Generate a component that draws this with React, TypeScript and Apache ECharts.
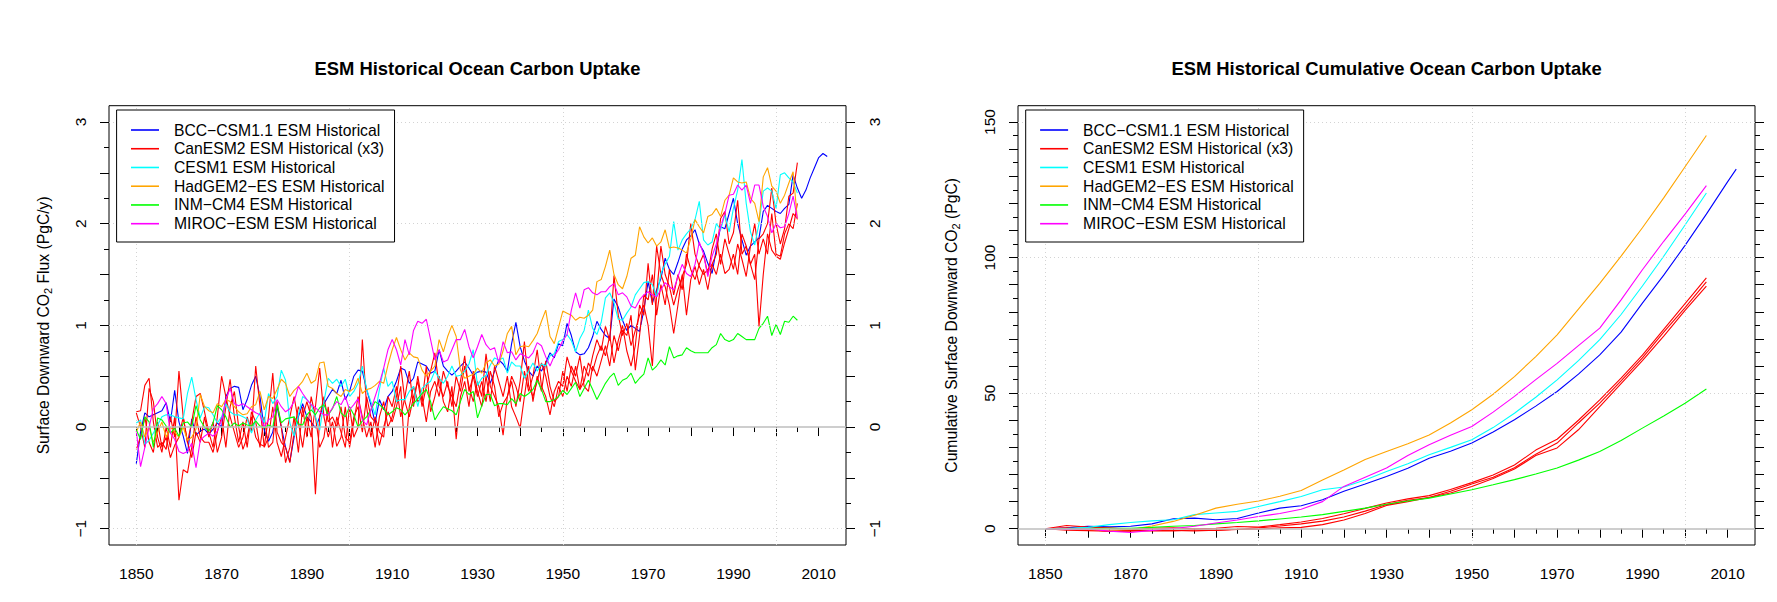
import React, { useEffect, useRef } from "react";
import * as echarts from "echarts";

// ---------------- DATA ----------------
const FLUX_START_YEAR = 1850;

const seriesNames = [
  "BCC\u2212CSM1.1 ESM Historical",
  "CanESM2 ESM Historical (x3)",
  "CESM1 ESM Historical",
  "HadGEM2\u2212ES ESM Historical",
  "INM\u2212CM4 ESM Historical",
  "MIROC\u2212ESM ESM Historical",
];
const seriesColors = ["#0000FF", "#FF0000", "#00FFFF", "#FFA500", "#00FF00", "#FF00FF"];

// Annual ocean carbon uptake, PgC/y (BCC 1850-2012, others 1850-2005)
const bccFlux = [
  -0.36, -0.05, 0.14, 0.10, 0.12, 0.14, 0.16, 0.24, 0.05, 0.36,
  0.05, -0.09, -0.26, 0.08, -0.08, -0.04, -0.02, -0.07, -0.02, 0.04,
  0.00, 0.30, 0.38, 0.40, 0.39, 0.17, 0.27, 0.41, 0.50, 0.30,
  -0.03, -0.14, -0.05, 0.20, 0.00, -0.20, -0.34, -0.10, 0.10, 0.23,
  0.10, 0.05, -0.01, 0.10, 0.23, 0.30, 0.37, 0.33, 0.46, 0.27,
  0.35, 0.50, 0.56, 0.55, 0.37, 0.22, 0.04, 0.27, 0.17, 0.30,
  0.35, 0.45, 0.58, 0.56, 0.43, 0.48, 0.64, 0.62, 0.60, 0.53,
  0.55, 0.76, 0.60, 0.55, 0.51, 0.55, 0.60, 0.64, 0.58, 0.51,
  0.54, 0.55, 0.54, 0.43, 0.55, 0.66, 0.62, 0.55, 0.82, 1.03,
  0.79, 0.65, 0.55, 0.50, 0.60, 0.55, 0.63, 0.73, 0.68, 0.82,
  0.80, 1.02, 0.90, 0.74, 0.71, 0.72, 0.78, 0.89, 1.04, 0.96,
  0.90, 0.87, 1.26, 1.18, 1.05, 0.95, 1.00, 0.97, 0.94, 1.15,
  1.43, 1.22, 1.35, 1.46, 1.66, 1.55, 1.50, 1.62, 1.75, 1.84,
  1.88, 1.94, 1.80, 1.73, 1.61, 1.51, 1.75, 1.97, 1.95, 2.10,
  2.25, 2.00, 1.84, 1.69, 1.78, 1.82, 1.86, 2.12, 2.18, 2.15,
  2.12, 2.10, 2.15, 2.19, 2.48, 2.35, 2.25, 2.33, 2.45, 2.55,
  2.65, 2.69, 2.66,
];

const canRun1Flux = [
  0.15, 0.16, 0.41, 0.48, 0.05, -0.20, -0.15, -0.22, 0.10, -0.10,
  0.55, 0.10, -0.15, 0.05, 0.30, 0.33, 0.15, -0.05, -0.20, 0.10,
  0.50, 0.30, 0.10, -0.05, -0.20, -0.10, 0.10, -0.05, 0.60, 0.20,
  -0.20, -0.10, 0.20, -0.15, -0.29, -0.10, 0.10, 0.30, 0.05, -0.20,
  0.10, -0.10, 0.20, 0.58, 0.10, -0.10, 0.05, -0.19, -0.10, 0.20,
  -0.20, 0.05, 0.30, 0.10, -0.10, 0.05, -0.20, 0.10, 0.25, 0.00,
  0.10, 0.30, 0.60, 0.25, 0.10, 0.30, 0.45, 0.20, 0.40, 0.55,
  0.73, 0.40, 0.30, 0.45, 0.20, 0.50, 0.35, 0.60, 0.40, 0.25,
  0.45, 0.30, 0.72, 0.40, 0.30, 0.20, -0.08, 0.30, 0.50, 0.40,
  0.25, 0.55, 0.35, 0.50, 0.76, 0.40, 0.30, 0.12, 0.35, 0.45,
  0.40, 0.69, 0.55, 0.45, 0.37, 0.60, 0.50, 0.70, 0.86, 0.75,
  0.99, 0.85, 1.49, 1.10, 0.90, 1.02, 0.80, 0.95, 1.10, 1.20,
  1.00, 0.60, 1.30, 1.78, 1.50, 1.38, 1.20, 1.35, 1.48, 1.60,
  2.00, 1.70, 1.58, 1.50, 1.55, 1.60, 1.70, 2.05, 2.12, 1.80,
  1.91, 2.23, 1.70, 1.78, 1.60, 1.45, 1.85, 1.90, 2.00, 2.35,
  2.00, 1.80, 1.95, 2.27, 2.30, 2.60,
];

const canRun2Flux = [
  0.14, 0.00, -0.20, 0.38, 0.25, -0.10, -0.25, 0.00, -0.20, 0.10,
  -0.72, -0.42, -0.45, -0.20, 0.10, -0.10, -0.15, -0.15, -0.25, -0.05,
  0.10, -0.20, 0.20, 0.35, 0.00, -0.22, -0.10, 0.10, -0.10, -0.17,
  -0.19, 0.10, 0.53, -0.05, -0.15, -0.20, -0.35, -0.05, 0.20, 0.10,
  0.25, 0.10, -0.66, 0.10, 0.30, 0.05, 0.10, 0.00, 0.20, -0.10,
  -0.15, 0.10, 0.20, -0.05, 0.30, 0.10, 0.05, -0.18, 0.00, 0.15,
  0.05, 0.20, 0.40, -0.31, 0.20, 0.40, 0.25, 0.30, 0.05, 0.35,
  0.45, 0.30, 0.55, 0.40, 0.30, 0.20, 0.45, 0.70, 0.35, 0.50,
  0.30, 0.45, 0.25, 0.55, 0.40, 0.10, 0.23, 0.30, 0.45, 0.20,
  0.45, 0.84, 0.40, 0.30, 0.45, 0.63, 0.50, 0.30, 0.20, 0.40,
  0.30, 0.50, 0.40, 0.60, 0.37, 0.45, 0.63, 0.55, 0.70, 0.80,
  0.70, 0.90, 0.63, 0.85, 1.00, 0.75, 0.60, 0.80, 1.20, 1.10,
  1.61, 1.20, 1.78, 1.50, 1.38, 1.20, 0.92, 1.20, 1.50, 1.10,
  1.45, 1.58, 1.40, 1.55, 1.35, 1.60, 1.50, 1.70, 1.51, 1.55,
  1.70, 1.50, 1.90, 1.78, 1.60, 1.70, 0.99, 1.50, 1.90, 1.74,
  1.68, 1.65, 1.81, 1.95, 2.10, 2.05,
];

const canRun3Flux = [
  -0.22, -0.10, 0.10, -0.15, -0.25, 0.05, -0.20, -0.10, -0.30, -0.18,
  -0.10, 0.10, -0.15, -0.30, -0.05, -0.15, 0.10, -0.10, 0.05, -0.25,
  -0.10, 0.20, 0.47, 0.10, -0.15, 0.05, -0.20, 0.15, 0.05, -0.20,
  0.10, -0.20, -0.15, 0.25, 0.00, -0.35, -0.20, 0.10, -0.25, 0.20,
  -0.10, 0.30, 0.10, -0.20, -0.10, 0.20, -0.20, 0.10, -0.05, -0.20,
  0.20, -0.10, 0.00, 0.86, 0.20, -0.10, 0.10, -0.05, -0.10, 0.30,
  0.20, 0.40, 0.10, 0.30, 0.55, 0.20, 0.50, 0.25, 0.60, 0.15,
  0.30, 0.50, 0.25, 0.15, 0.40, -0.12, 0.30, 0.45, 0.20, 0.55,
  0.35, 0.20, 0.50, 0.25, 0.60, 0.45, 0.30, 0.50, 0.20, 0.10,
  -0.01, 0.30, 0.60, 0.25, 0.50, 0.35, 0.65, 0.40, 0.25, 0.30,
  0.55, 0.35, 0.60, 0.50, 0.70, 0.40, 0.35, 0.60, 0.50, 0.65,
  0.80, 0.60, 0.90, 0.75, 0.95, 0.90, 1.10, 0.56, 0.90, 1.30,
  1.25, 1.50, 1.10, 1.40, 1.20, 1.55, 1.30, 1.50, 1.35, 1.70,
  1.55, 1.45, 1.60, 1.70, 1.50, 1.75, 1.90, 1.60, 1.85, 1.70,
  1.55, 1.80, 1.65, 1.48, 1.78, 2.00, 1.70, 1.85, 1.70, 2.10,
  1.70, 1.68, 1.90, 2.00, 1.95, 2.20,
];

const cesmFlux = [
  0.04, 0.07, -0.17, -0.13, -0.06, 0.02, 0.10, 0.12, 0.12, 0.10,
  0.09, 0.08, 0.33, 0.49, 0.27, 0.09, 0.20, 0.19, 0.12, 0.04,
  0.10, 0.23, 0.15, 0.12, 0.12, 0.10, 0.08, -0.06, 0.07, 0.14,
  0.04, 0.33, 0.23, 0.30, 0.56, 0.46, 0.04, -0.09, 0.12, 0.30,
  0.27, 0.22, 0.10, -0.03, 0.25, 0.48, 0.43, 0.47, 0.40, 0.47,
  0.30, 0.35, 0.43, 0.60, 0.37, 0.25, 0.12, 0.37, 0.58, 0.40,
  0.45, 0.25, 0.27, 0.27, 0.35, 0.40, 0.20, 0.38, 0.42, 0.45,
  0.55, 0.48, 0.43, 0.50, 0.60, 0.50, 0.51, 0.55, 0.62, 0.76,
  0.41, 0.48, 0.51, 0.61, 0.68, 0.66, 0.68, 0.53, 0.64, 0.60,
  0.60, 0.48, 0.55, 0.63, 0.55, 0.62, 0.60, 0.70, 0.72, 0.84,
  0.86, 0.91, 0.85, 0.74, 0.87, 0.95, 1.15, 0.97, 0.91, 1.03,
  1.27, 1.32, 1.22, 1.06, 1.05, 1.12, 1.18, 1.30, 1.36, 1.42,
  1.43, 1.40, 1.28, 1.51, 1.60, 1.68, 2.02, 1.74, 1.84, 1.90,
  1.95, 2.04, 2.22, 1.84, 1.79, 1.82, 2.00, 1.94, 2.09, 1.92,
  2.15, 2.33, 2.63, 2.20, 1.92, 1.79, 2.00, 2.32, 2.35, 2.32,
  2.15, 2.48, 2.50, 2.45, 2.41, 2.30,
];

const hadFlux = [
  -0.05, 0.05, -0.10, 0.00, -0.15, -0.05, 0.05, -0.10, 0.00, -0.05,
  -0.10, 0.00, -0.13, -0.10, -0.02, 0.32, 0.20, 0.16, 0.14, 0.23,
  0.20, 0.27, 0.25, 0.20, 0.15, 0.12, 0.13, 0.20, 0.22, 0.35,
  0.17, 0.30, 0.28, 0.37, 0.47, 0.43, 0.30, 0.36, 0.40, 0.45,
  0.53, 0.43, 0.46, 0.63, 0.64, 0.40, 0.38, 0.33, 0.30, 0.37,
  0.35, 0.38, 0.48, 0.33, 0.37, 0.38, 0.41, 0.45, 0.43, 0.61,
  0.76, 0.88, 0.76, 0.66, 0.73, 0.69, 0.68, 0.56, 0.50, 0.55,
  0.60, 0.86, 0.74, 0.89, 1.00, 0.89, 0.56, 0.48, 0.50, 0.52,
  0.58, 0.53, 0.63, 0.66, 0.60, 0.62, 0.75, 0.92, 0.99, 0.71,
  0.79, 0.80, 0.79, 0.85, 0.92, 1.04, 1.15, 0.89, 0.82, 0.98,
  1.14, 1.12, 1.10, 1.05, 1.08, 1.07, 1.10, 1.15, 1.43, 1.45,
  1.58, 1.74, 1.50, 1.40, 1.36, 1.48, 1.66, 1.69, 1.97, 1.87,
  1.81, 1.86, 1.78, 1.82, 1.94, 1.76, 1.77, 1.76, 1.74, 1.71,
  1.85, 2.04, 1.97, 1.91, 2.07, 2.09, 2.15, 2.07, 2.23, 2.28,
  2.45, 2.41, 2.40, 2.41, 2.25, 2.20, 2.02, 2.46, 2.55, 2.37,
  2.32, 2.20, 2.28, 2.40, 2.51, 2.04,
];

const inmFlux = [
  -0.03, -0.12, 0.10, 0.05, -0.20, 0.09, 0.07, 0.01, -0.06, -0.01,
  -0.09, 0.04, 0.05, 0.00, 0.21, 0.07, 0.00, -0.04, 0.04, 0.21,
  0.17, 0.10, 0.00, 0.04, 0.01, 0.04, 0.02, 0.01, 0.06, 0.01,
  -0.01, 0.02, 0.00, 0.22, 0.04, 0.08, 0.09, 0.10, 0.03, 0.02,
  0.12, 0.17, 0.12, 0.19, 0.22, 0.12, 0.18, 0.30, 0.14, 0.10,
  0.20, 0.12, 0.00, 0.06, 0.10, 0.17, 0.25, 0.22, 0.18, 0.12,
  0.15, 0.19, 0.17, 0.12, 0.17, 0.23, 0.28, 0.33, 0.37, 0.25,
  0.07, 0.14, 0.20, 0.18, 0.16, 0.12, 0.25, 0.37, 0.32, 0.35,
  0.09, 0.21, 0.32, 0.32, 0.21, 0.23, 0.23, 0.22, 0.28, 0.23,
  0.33, 0.30, 0.33, 0.37, 0.46, 0.37, 0.25, 0.25, 0.27, 0.30,
  0.36, 0.32, 0.38, 0.44, 0.30, 0.38, 0.46, 0.37, 0.27, 0.35,
  0.43, 0.49, 0.53, 0.41, 0.46, 0.48, 0.53, 0.43, 0.48, 0.52,
  0.68, 0.56, 0.60, 0.66, 0.61, 0.79, 0.68, 0.70, 0.71, 0.78,
  0.75, 0.73, 0.73, 0.73, 0.73, 0.78, 0.81, 0.92, 0.86, 0.84,
  0.86, 0.92, 0.89, 0.86, 0.86, 0.86, 0.97, 1.02, 1.09, 0.90,
  1.01, 0.91, 1.04, 1.03, 1.09, 1.05,
];

const mirocFlux = [
  -0.04, -0.39, -0.20, 0.00, 0.18, 0.23, 0.30, 0.23, -0.06, -0.12,
  -0.24, -0.26, -0.24, -0.16, -0.40, -0.13, -0.09, -0.06, -0.09, -0.04,
  0.07, 0.27, 0.38, 0.23, 0.21, 0.23, 0.20, 0.17, 0.14, 0.12,
  0.00, 0.07, 0.10, 0.27, 0.20, 0.15, 0.18, 0.25, 0.40, 0.33,
  0.27, 0.22, 0.19, 0.15, 0.12, 0.12, 0.19, 0.25, 0.22, 0.30,
  0.17, 0.22, 0.28, 0.07, 0.02, 0.17, 0.30, 0.43, 0.58, 0.76,
  0.86, 0.76, 0.61, 0.86, 0.71, 0.95, 1.04, 1.02, 1.06, 0.86,
  0.66, 0.76, 0.64, 0.66, 0.76, 0.86, 0.86, 0.96, 0.79, 0.68,
  0.79, 0.91, 0.81, 0.76, 0.78, 0.63, 0.84, 0.73, 0.74, 0.66,
  0.72, 0.70, 0.68, 0.73, 0.83, 0.80, 0.69, 0.60, 0.70, 0.76,
  0.85, 0.91, 1.15, 1.32, 1.17, 1.35, 1.37, 1.32, 1.30, 1.33,
  1.33, 1.38, 1.41, 1.30, 1.32, 1.28, 1.19, 1.17, 1.25, 1.30,
  1.33, 1.30, 1.28, 1.35, 1.42, 1.38, 1.35, 1.48, 1.60, 1.51,
  1.48, 1.60, 1.82, 1.70, 1.48, 1.68, 1.80, 1.97, 2.10, 2.28,
  2.29, 2.38, 2.33, 2.38, 2.20, 2.38, 2.38, 2.17, 2.07, 1.91,
  2.00, 1.96, 1.97, 2.10, 2.27, 2.05,
];

// Cumulative uptake, PgC (read every 5 years)
const cumYears = [
  1850, 1855, 1860, 1865, 1870, 1875, 1880, 1885, 1890, 1895,
  1900, 1905, 1910, 1915, 1920, 1925, 1930, 1935, 1940, 1945,
  1950, 1955, 1960, 1965, 1970, 1975, 1980, 1985, 1990, 1995,
  2000, 2005,
];
const bccCumYears = [...cumYears, 2010, 2012];
const bccCum = [
  0, 0.3, 0.9, 0.7, 0.9, 1.8, 3.7, 3.9, 3.3, 3.8,
  5.8, 7.6, 8.5, 10.7, 13.8, 16.5, 19.3, 22.3, 26.0, 28.6,
  31.6, 35.7, 40.2, 45.2, 50.6, 57.0, 64.1, 72.5, 83.2, 93.5,
  104.5, 116.0, 128.0, 132.6,
];
const canRun1Cum = [
  0, 1.2, 0.6, 0.3, -0.3, 0.2, 0.3, 0.0, 0.2, 0.8,
  0.6, 1.5, 2.5, 3.8, 5.5, 7.5, 9.5, 11.0, 12.2, 14.5,
  17.0, 19.8, 23.5, 29.0, 33.0, 40.0, 47.5, 55.5, 64.0, 73.5,
  83.0, 92.5,
];
const canRun2Cum = [
  0, 0.3, -0.3, -1.0, -0.9, -0.7, -0.8, -0.4, -0.6, -0.3,
  -0.2, 0.3, 0.5, 1.5, 3.2, 5.6, 8.6, 10.0, 11.5, 13.8,
  16.5, 19.0, 22.5, 27.5, 31.6, 39.0, 46.3, 54.5, 63.0, 72.5,
  81.5, 91.0,
];
const canRun3Cum = [
  0, -0.5, -0.7, -0.9, -0.6, -0.5, -0.6, -0.8, -0.5, -0.2,
  0.3, 1.0, 1.8, 2.8, 4.3, 6.5, 8.9, 10.5, 11.5, 13.2,
  15.6, 18.5, 22.0, 27.0, 29.8, 36.5, 45.0, 53.5, 62.0, 71.0,
  80.5, 89.5,
];
const cesmCum = [
  0, 0.1, 0.5, 1.5, 2.3, 2.9, 3.3, 5.2, 5.8, 6.4,
  8.2, 10.0, 11.9, 14.4, 15.4, 18.0, 21.1, 24.0, 27.3, 30.0,
  32.8, 37.3, 42.6, 48.5, 54.9, 62.0, 69.7, 79.0, 89.5, 100.5,
  112.0, 123.8,
];
const hadCum = [
  0, -0.2, -0.3, -0.5, -0.3, 1.0, 2.7, 5.0, 7.6, 9.0,
  10.2, 12.0, 14.1, 18.0, 21.7, 25.5, 28.5, 31.3, 34.6, 39.0,
  43.9, 49.6, 56.1, 63.5, 71.5, 81.0, 90.5, 100.5, 111.0, 122.0,
  133.5, 145.0,
];
const inmCum = [
  0, -0.1, 0.1, 0.2, 0.2, 0.5, 0.9, 1.2, 1.8, 2.3,
  2.9, 3.6, 4.3, 5.2, 6.4, 7.6, 9.0, 10.2, 11.3, 12.8,
  14.4, 16.2, 18.1, 20.2, 22.4, 25.3, 28.5, 32.5, 37.1, 41.6,
  46.3, 51.5,
];
const mirocCum = [
  0, -0.3, -0.1, -0.9, -1.4, -0.6, 0.1, 0.9, 2.1, 3.2,
  4.5, 5.6, 7.2, 10.0, 15.6, 19.0, 22.4, 27.0, 31.0, 34.5,
  37.7, 43.0, 48.8, 55.0, 61.0, 67.5, 74.0, 84.4, 95.5, 106.0,
  116.0, 126.5,
];

// Axis ranges / ticks
const yearTicks = { min: 1850, max: 2010, step: 10, labelEvery: 20 };
const fluxTicks = { min: -1, max: 3, step: 0.5 };
const cumTicks = { min: 0, max: 150, step: 10, labelEvery: 50 };
const fluxGridValues = [-1, 1, 2, 3];
const cumGridValues = [50, 100, 150];
const yearGridValues = [1850, 1900, 1950, 2000];

// ---------------- LAYOUT ----------------
const FONT = "'Liberation Sans', Arial, Helvetica, sans-serif";
const BOX_TOP = 105.7;
const BOX_H = 439.3;
const BOX_W = 737;
const LEFT_BOX_X = 109;
const RIGHT_BOX_X = 1018;
const X_USR = [1843.6, 2016.4];
const FLUX_USR = [-1.16, 3.16];
const CUM_USR = [-6, 156];

function innerRect(boxX: number, yUsr: number[], yMin: number, yMax: number) {
  const pxX = BOX_W / (X_USR[1] - X_USR[0]);
  const pxY = BOX_H / (yUsr[1] - yUsr[0]);
  const left = boxX + (yearTicks.min - X_USR[0]) * pxX;
  const width = (yearTicks.max - yearTicks.min) * pxX;
  const top = BOX_TOP + (yUsr[1] - yMax) * pxY;
  const height = (yMax - yMin) * pxY;
  return { left, top, width, height };
}

function pairs(start: number, vals: number[]) {
  return vals.map((v, i) => [start + i, v]);
}
function zip(xs: number[], vals: number[]) {
  return vals.map((v, i) => [xs[i], v]);
}

function buildOption() {
  const innerL = innerRect(LEFT_BOX_X, FLUX_USR, fluxTicks.min, fluxTicks.max);
  const innerR = innerRect(RIGHT_BOX_X, CUM_USR, cumTicks.min, cumTicks.max);
  const xOff = BOX_TOP + BOX_H - (innerL.top + innerL.height);
  const yOffL = innerL.left - LEFT_BOX_X;
  const yOffR = LEFT_BOX_X + BOX_W - (innerL.left + innerL.width);

  const tickCommon = {
    axisLine: { show: false },
    axisTick: { show: true, length: 9, lineStyle: { color: "#000", width: 1 } },
    minorTick: { show: true, splitNumber: 2, length: 5, lineStyle: { color: "#000", width: 1 } },
    splitLine: { show: false },
    minorSplitLine: { show: false },
  };
  const labelStyle = { color: "#000", fontSize: 15.5, fontFamily: FONT };

  const xTickAxis = (gridIndex: number) => ({
    gridIndex,
    type: "value",
    min: yearTicks.min,
    max: yearTicks.max,
    interval: yearTicks.step,
    position: "bottom",
    offset: xOff,
    ...tickCommon,
    axisLabel: {
      ...labelStyle,
      margin: 20,
      formatter: (v: number) => ((v - yearTicks.min) % yearTicks.labelEvery === 0 ? String(v) : ""),
    },
  });

  const fluxFmt = (v: number) =>
    Math.abs(v - Math.round(v)) < 1e-9 ? (v < 0 ? "\u2212" + String(-v) : String(v)) : "";
  const cumFmt = (v: number) => (v % cumTicks.labelEvery === 0 ? String(v) : "");

  const yTickAxis = (gridIndex: number, position: string, offset: number, t: any, fmt: any) => ({
    gridIndex,
    type: "value",
    min: t.min,
    max: t.max,
    interval: t.step,
    position,
    offset,
    ...tickCommon,
    axisLabel: { ...labelStyle, margin: 20.5, rotate: 90, formatter: fmt },
  });

  const hiddenX = (gridIndex: number) => ({
    gridIndex, type: "value", min: X_USR[0], max: X_USR[1], show: false,
  });
  const hiddenY = (gridIndex: number, usr: number[]) => ({
    gridIndex, type: "value", min: usr[0], max: usr[1], show: false,
  });

  const dotted = { color: "#D3D3D3", width: 1, type: [1, 3] };
  const zeroLine = { color: "#BEBEBE", width: 1.6, type: "solid" };

  const refSeries = (xi: number, yi: number, hVals: number[]) => ({
    type: "line",
    xAxisIndex: xi,
    yAxisIndex: yi,
    data: [],
    silent: true,
    z: 1,
    markLine: {
      silent: true,
      symbol: ["none", "none"],
      label: { show: false },
      emphasis: { disabled: true },
      data: [
        ...yearGridValues.map((x) => ({ xAxis: x, lineStyle: dotted })),
        ...hVals.map((y) => ({ yAxis: y, lineStyle: dotted })),
        { yAxis: 0, lineStyle: zeroLine },
      ],
    },
  });

  const line = (name: string, color: string, data: any[], xi: number, yi: number) => ({
    type: "line",
    name,
    data,
    xAxisIndex: xi,
    yAxisIndex: yi,
    color,
    symbol: "none",
    showSymbol: false,
    silent: true,
    z: 2,
    emphasis: { disabled: true },
    lineStyle: { color, width: 1.1 },
  });

  const fluxData = [
    [seriesNames[0], seriesColors[0], pairs(FLUX_START_YEAR, bccFlux)],
    [seriesNames[1], seriesColors[1], pairs(FLUX_START_YEAR, canRun1Flux)],
    [seriesNames[1], seriesColors[1], pairs(FLUX_START_YEAR, canRun2Flux)],
    [seriesNames[1], seriesColors[1], pairs(FLUX_START_YEAR, canRun3Flux)],
    [seriesNames[2], seriesColors[2], pairs(FLUX_START_YEAR, cesmFlux)],
    [seriesNames[3], seriesColors[3], pairs(FLUX_START_YEAR, hadFlux)],
    [seriesNames[4], seriesColors[4], pairs(FLUX_START_YEAR, inmFlux)],
    [seriesNames[5], seriesColors[5], pairs(FLUX_START_YEAR, mirocFlux)],
  ];
  const cumData = [
    [seriesNames[0], seriesColors[0], zip(bccCumYears, bccCum)],
    [seriesNames[1], seriesColors[1], zip(cumYears, canRun1Cum)],
    [seriesNames[1], seriesColors[1], zip(cumYears, canRun2Cum)],
    [seriesNames[1], seriesColors[1], zip(cumYears, canRun3Cum)],
    [seriesNames[2], seriesColors[2], zip(cumYears, cesmCum)],
    [seriesNames[3], seriesColors[3], zip(cumYears, hadCum)],
    [seriesNames[4], seriesColors[4], zip(cumYears, inmCum)],
    [seriesNames[5], seriesColors[5], zip(cumYears, mirocCum)],
  ];

  const legendBase = {
    orient: "vertical",
    top: 110,
    data: seriesNames,
    icon: "rect",
    itemWidth: 28,
    itemHeight: 1.6,
    itemGap: 0.74,
    padding: [11, 10, 9.3, 14.4],
    backgroundColor: "#fff",
    borderColor: "#000",
    borderWidth: 1,
    borderRadius: 0,
    selectedMode: false,
    z: 10,
    textStyle: {
      color: "#000",
      fontSize: 15.7,
      fontFamily: FONT,
      lineHeight: 18,
      padding: [0, 0, 0, 10],
    },
  };

  const titleText = (x: number, text: string) => ({
    type: "text",
    x,
    y: 68.5,
    silent: true,
    style: {
      text,
      fill: "#000",
      font: `bold 18.4px ${FONT}`,
      textAlign: "center",
      textVerticalAlign: "middle",
    },
  });

  const yName = (x: number, before: string, after: string) => ({
    type: "text",
    x,
    y: BOX_TOP + BOX_H / 2,
    rotation: Math.PI / 2,
    silent: true,
    style: {
      text: `{a|${before}}{s|2}{a|${after}}`,
      textAlign: "center",
      textVerticalAlign: "middle",
      fill: "#000",
      rich: {
        a: { fontSize: 15.7, fontFamily: FONT, color: "#000", lineHeight: 20 },
        s: { fontSize: 11, fontFamily: FONT, color: "#000", lineHeight: 11, verticalAlign: "bottom" },
      },
    },
  });

  const gridBase = { containLabel: false, outerBoundsMode: "none" };

  return {
    animation: false,
    backgroundColor: "#fff",
    grid: [
      { ...gridBase, left: LEFT_BOX_X, top: BOX_TOP, width: BOX_W, height: BOX_H, show: true, borderColor: "#000", borderWidth: 1, backgroundColor: "transparent" },
      { ...gridBase, left: innerL.left, top: innerL.top, width: innerL.width, height: innerL.height },
      { ...gridBase, left: RIGHT_BOX_X, top: BOX_TOP, width: BOX_W, height: BOX_H, show: true, borderColor: "#000", borderWidth: 1, backgroundColor: "transparent" },
      { ...gridBase, left: innerR.left, top: innerR.top, width: innerR.width, height: innerR.height },
    ],
    xAxis: [hiddenX(0), xTickAxis(1), hiddenX(2), xTickAxis(3)],
    yAxis: [
      hiddenY(0, FLUX_USR),
      yTickAxis(1, "left", yOffL, fluxTicks, fluxFmt),
      yTickAxis(1, "right", yOffR, fluxTicks, fluxFmt),
      hiddenY(2, CUM_USR),
      yTickAxis(3, "left", yOffL, cumTicks, cumFmt),
      yTickAxis(3, "right", yOffR, cumTicks, cumFmt),
    ],
    legend: [
      { ...legendBase, left: 116.6 },
      { ...legendBase, left: 1025.7 },
    ],
    graphic: [
      titleText(LEFT_BOX_X + BOX_W / 2, "ESM Historical Ocean Carbon Uptake"),
      titleText(RIGHT_BOX_X + BOX_W / 2, "ESM Historical Cumulative Ocean Carbon Uptake"),
      yName(43, "Surface Downward CO", " Flux (PgC/y)"),
      yName(951, "Cumulative Surface Downward CO", " (PgC)"),
    ],
    series: [
      refSeries(0, 0, fluxGridValues),
      refSeries(2, 3, cumGridValues),
      ...fluxData.map(([n, c, d]: any) => line(n, c, d, 0, 0)),
      ...cumData.map(([n, c, d]: any) => line(n, c, d, 2, 3)),
    ],
  };
}

export default function App() {
  const ref = useRef<HTMLDivElement>(null);
  useEffect(() => {
    if (!ref.current) return;
    const chart = echarts.init(ref.current, null, { renderer: "svg" });
    chart.setOption(buildOption() as any);
    return () => chart.dispose();
  }, []);
  return (
    <div
      ref={ref}
      style={{ position: "absolute", left: 0, top: 0, width: 1777, height: 602, background: "#fff" }}
    />
  );
}
